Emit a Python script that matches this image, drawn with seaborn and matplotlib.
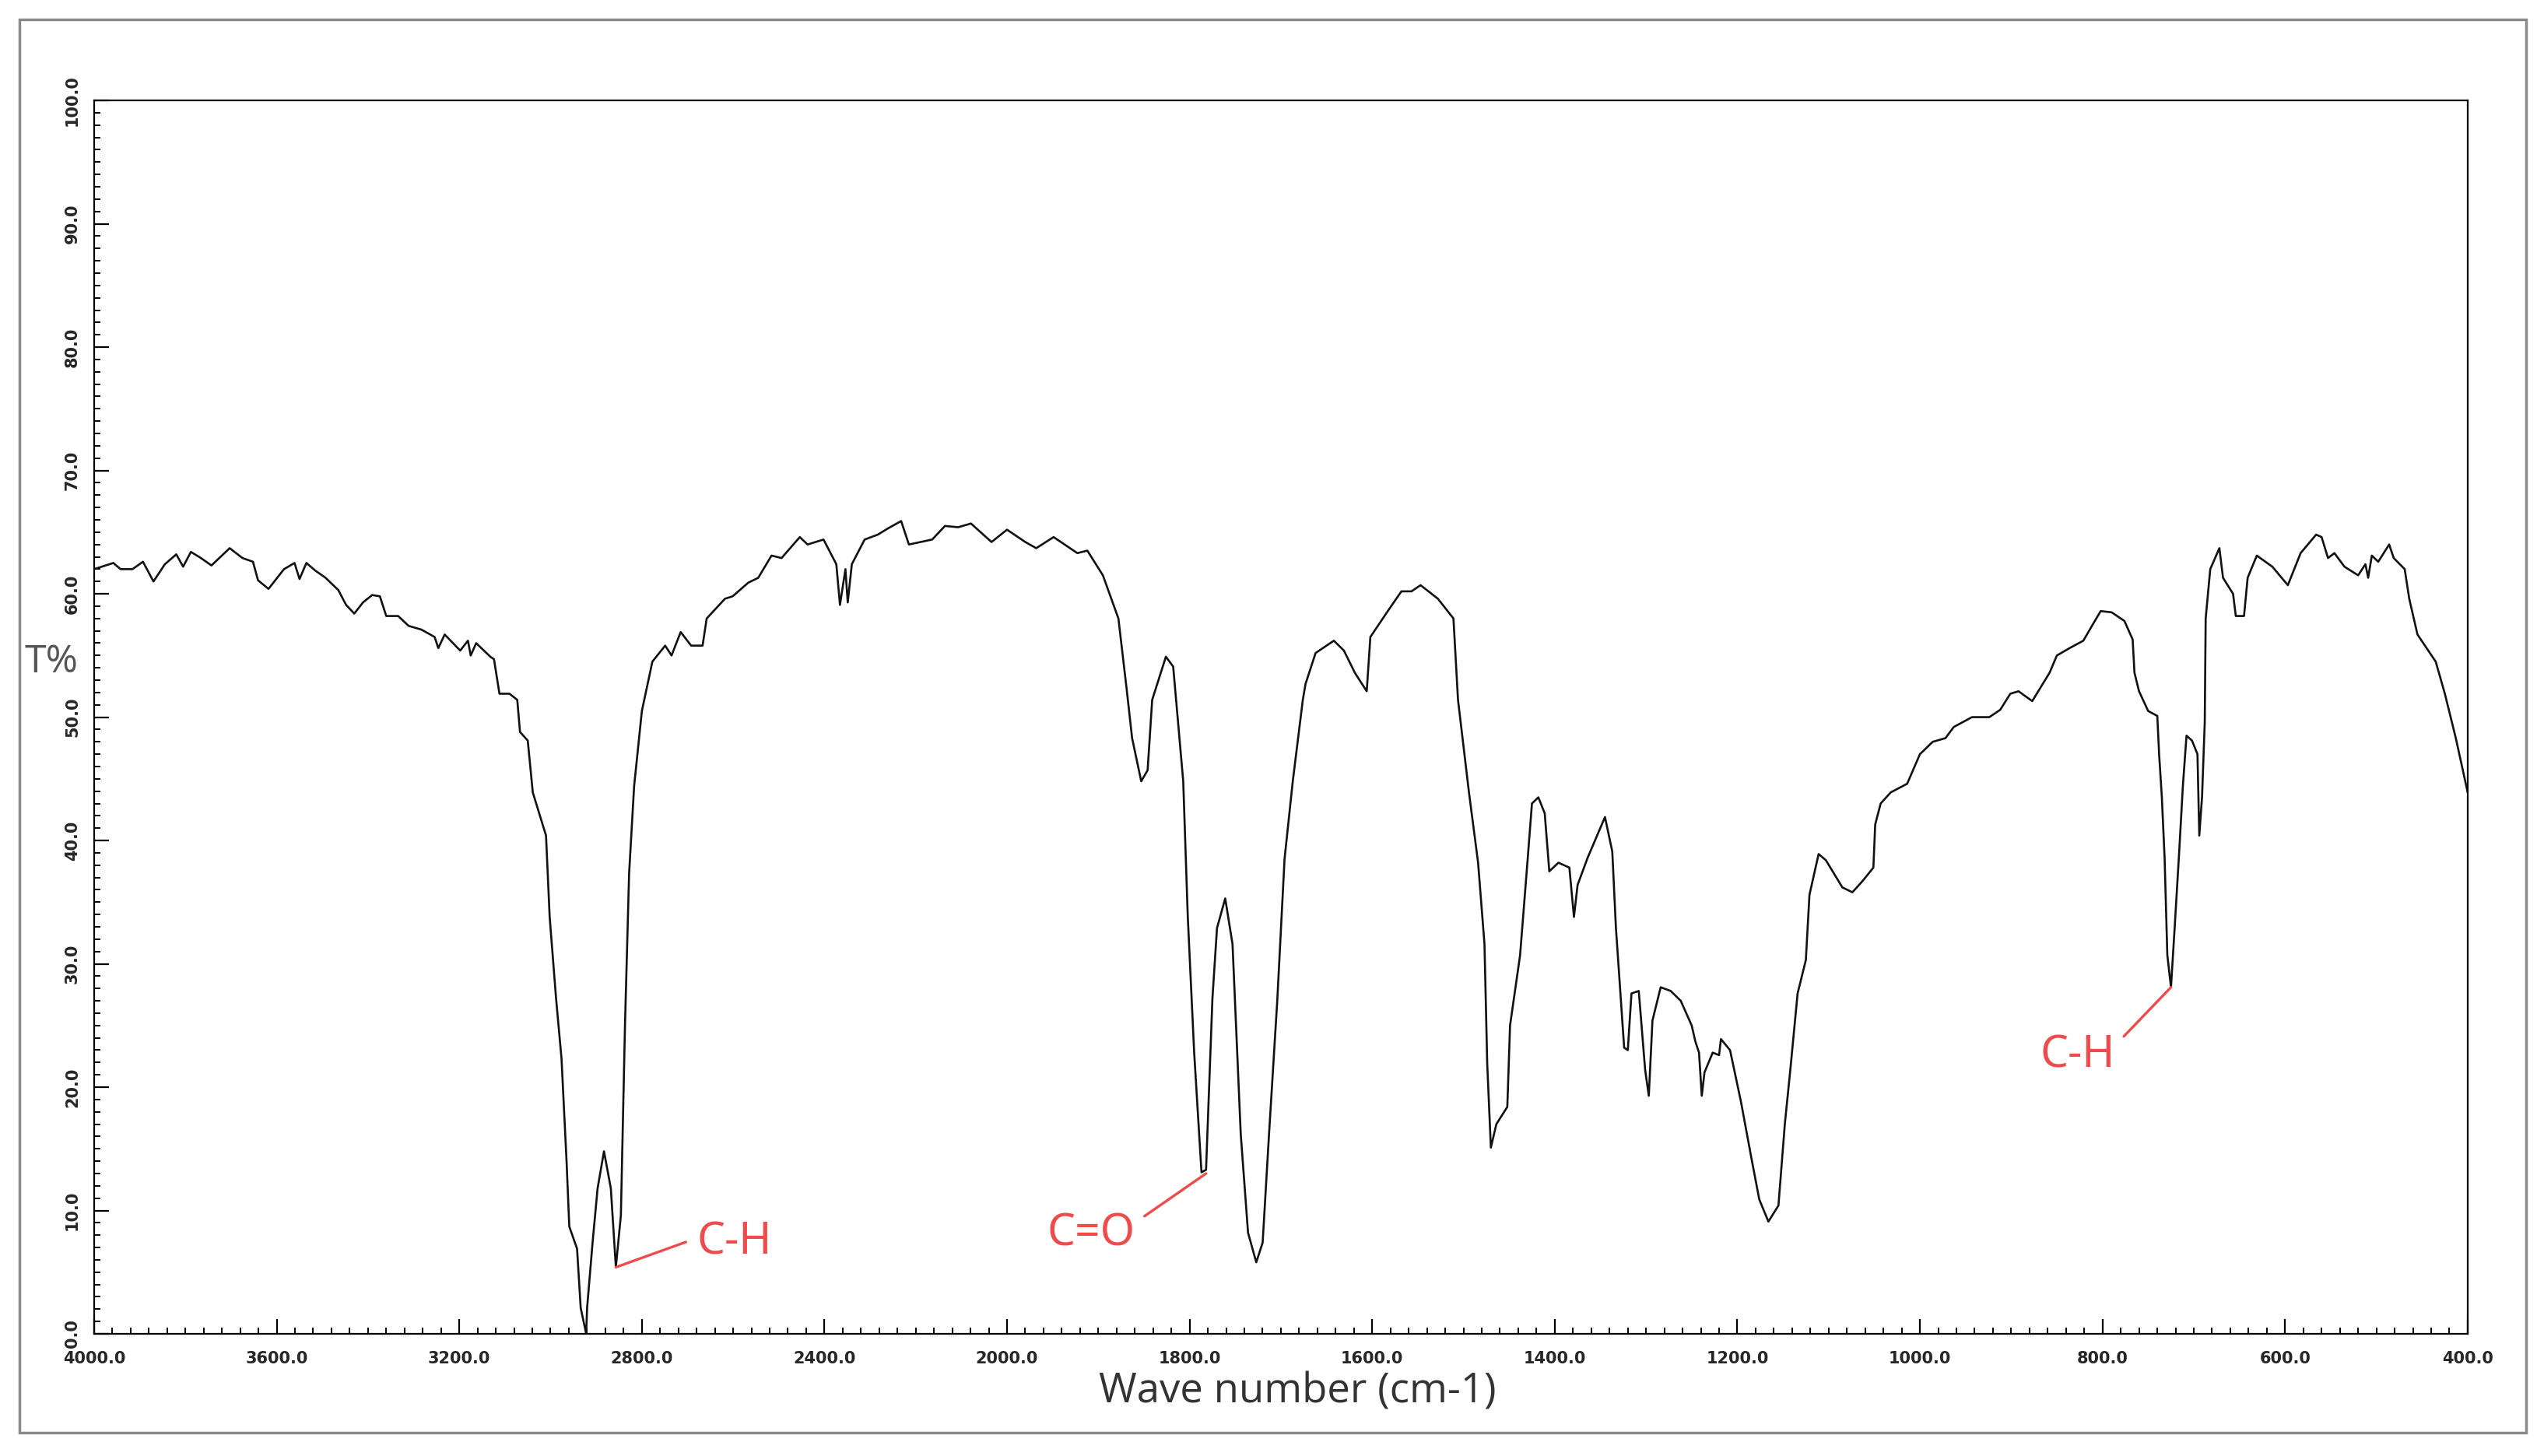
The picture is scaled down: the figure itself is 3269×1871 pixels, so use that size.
import numpy as np
import pandas as pd
import matplotlib
matplotlib.use('Agg')
import matplotlib.pyplot as plt
import matplotlib.ticker as mticker
from matplotlib.patches import Rectangle
import seaborn as sns

# IR spectrum (wave number cm-1, transmittance %)
wavenumber = [4000, 3958, 3942, 3916, 3893, 3870, 3845, 3820, 3805, 3788, 3766, 3743, 3703, 3675,
              3652, 3641, 3618, 3584, 3561, 3550, 3535, 3516, 3493, 3465, 3448, 3430, 3411, 3391,
              3374, 3360, 3334, 3311, 3283, 3254, 3246, 3232, 3198, 3181, 3175, 3163, 3146, 3132,
              3124, 3112, 3090, 3073, 3067, 3050, 3039, 3010, 3002, 2988, 2976, 2965, 2959, 2942,
              2934, 2922, 2920, 2908, 2897, 2883, 2868, 2857, 2846, 2837, 2828, 2817, 2800, 2777,
              2749, 2735, 2715, 2692, 2667, 2658, 2618, 2601, 2567, 2545, 2516, 2494, 2454, 2437,
              2402, 2374, 2366, 2354, 2349, 2340, 2312, 2283, 2261, 2232, 2215, 2164, 2136, 2107,
              2079, 2034, 2000, 1980, 1968, 1949, 1923, 1912, 1895, 1878, 1869, 1863, 1853, 1846,
              1841, 1826, 1818, 1807, 1802, 1795, 1787, 1782, 1775, 1770, 1761, 1753, 1744, 1736,
              1727, 1720, 1713, 1704, 1696, 1687, 1676, 1673, 1662, 1642, 1631, 1619, 1606, 1602,
              1582, 1568, 1557, 1547, 1528, 1511, 1506, 1494, 1484, 1477, 1474, 1470, 1464, 1452,
              1449, 1438, 1430, 1425, 1418, 1411, 1406, 1396, 1384, 1379, 1375, 1364, 1345, 1337,
              1333, 1324, 1320, 1316, 1308, 1301, 1297, 1293, 1284, 1273, 1262, 1250, 1246, 1242,
              1239, 1236, 1227, 1220, 1218, 1208, 1196, 1185, 1176, 1166, 1155, 1148, 1142, 1134,
              1125, 1121, 1111, 1103, 1085, 1074, 1063, 1051, 1049, 1043, 1032, 1014, 1000, 986,
              972, 963, 943, 924, 912, 901, 892, 877, 858, 850, 836, 821, 810, 802,
              790, 776, 767, 765, 760, 750, 740, 738, 735, 732, 729, 725, 721, 716,
              712, 708, 702, 696, 694, 691, 688, 687, 682, 672, 668, 657, 654, 645,
              641, 631, 614, 597, 583, 566, 560, 553, 546, 535, 520, 512, 509, 505,
              498, 486, 481, 469, 464, 455, 435, 425, 413, 400]
transmittance = [62.0, 62.5, 62.0, 62.0, 62.6, 61.0, 62.4, 63.2, 62.2, 63.4, 62.9, 62.3, 63.7, 62.9,
                 62.6, 61.1, 60.4, 62.0, 62.5, 61.2, 62.5, 61.9, 61.3, 60.3, 59.1, 58.4, 59.3, 59.9,
                 59.8, 58.2, 58.2, 57.4, 57.1, 56.5, 55.6, 56.7, 55.4, 56.2, 55.0, 56.0, 55.4, 54.9,
                 54.7, 51.9, 51.9, 51.4, 48.8, 48.1, 43.9, 40.4, 33.8, 27.2, 22.3, 14.0, 8.7, 6.9,
                 2.1, 0.0, 2.1, 7.4, 11.8, 14.8, 11.8, 5.4, 9.6, 25.0, 37.3, 44.4, 50.5, 54.5,
                 55.8, 55.0, 56.9, 55.8, 55.8, 58.0, 59.6, 59.8, 60.9, 61.3, 63.1, 62.9, 64.6, 64.0,
                 64.4, 62.4, 59.1, 62.0, 59.3, 62.4, 64.4, 64.8, 65.3, 65.9, 64.0, 64.4, 65.5, 65.4,
                 65.7, 64.2, 65.2, 64.2, 63.7, 64.6, 63.3, 63.5, 61.5, 58.0, 52.3, 48.3, 44.8, 45.7,
                 51.4, 54.9, 54.1, 44.8, 33.8, 22.8, 13.1, 13.3, 27.2, 32.9, 35.3, 31.6, 16.2, 8.2,
                 5.8, 7.4, 16.2, 27.0, 38.5, 44.8, 51.4, 52.7, 55.2, 56.2, 55.4, 53.6, 52.1, 56.5,
                 58.7, 60.2, 60.2, 60.7, 59.6, 58.0, 51.4, 43.9, 38.2, 31.6, 21.9, 15.1, 17.0, 18.4,
                 25.0, 30.7, 38.2, 43.0, 43.5, 42.2, 37.5, 38.2, 37.8, 33.8, 36.4, 38.6, 41.9, 39.1,
                 32.9, 23.2, 23.0, 27.6, 27.8, 21.4, 19.3, 25.4, 28.1, 27.8, 27.0, 25.0, 23.7, 22.8,
                 19.3, 21.2, 22.8, 22.6, 23.9, 23.0, 18.8, 14.4, 10.9, 9.1, 10.4, 17.0, 21.4, 27.6,
                 30.3, 35.6, 38.9, 38.4, 36.2, 35.8, 36.7, 37.8, 41.3, 43.0, 43.9, 44.6, 47.0, 48.0,
                 48.3, 49.2, 50.0, 50.0, 50.6, 51.9, 52.1, 51.3, 53.6, 55.0, 55.6, 56.2, 57.6, 58.6,
                 58.5, 57.8, 56.3, 53.6, 52.1, 50.5, 50.1, 47.0, 43.5, 38.6, 30.7, 28.1, 32.9, 39.1,
                 44.4, 48.5, 48.1, 47.0, 40.4, 43.5, 49.6, 58.0, 62.0, 63.7, 61.3, 60.0, 58.2, 58.2,
                 61.3, 63.1, 62.2, 60.7, 63.3, 64.8, 64.6, 62.9, 63.3, 62.2, 61.5, 62.4, 61.3, 63.1,
                 62.6, 64.0, 62.9, 62.0, 59.6, 56.7, 54.5, 51.9, 48.3, 43.9]

x_major = [4000, 3600, 3200, 2800, 2400, 2000, 1800, 1600, 1400, 1200, 1000, 800, 600, 400]
y_major = [0, 10, 20, 30, 40, 50, 60, 70, 80, 90, 100]

# peak labels: text, peak (wn, T%), text anchor (wn, T%)
peak_labels = ['C-H', 'C=O', 'C-H']
peak_xy = [(2857, 5.4), (1782, 13.0), (725, 28.1)]
label_xy = [(2680, 7.4), (1860, 8.1), (786, 22.5)]

df = pd.DataFrame({'wn': wavenumber, 'T': transmittance})

sns.set_style('ticks')
plt.rcParams['font.family'] = ['DejaVu Sans']

fig = plt.figure(figsize=(32.69, 18.71), dpi=100)
ax = fig.add_axes([0.037, 0.0839, 0.933, 0.8471])

sns.lineplot(data=df, x='wn', y='T', sort=False, estimator=None, color='#111111', lw=1.9, ax=ax)


# 4000-2000 compressed, 2000-400 expanded (like the instrument plot)
def fwd(w):
    w = np.asarray(w, dtype=float)
    return np.where(w <= 2000, (w - 400) / 200.0, 8 + (w - 2000) / 400.0)


def inv(p):
    p = np.asarray(p, dtype=float)
    return np.where(p <= 8, 400 + 200.0 * p, 2000 + 400.0 * (p - 8))


ax.set_xscale('function', functions=(fwd, inv))
ax.set_xlim(4000, 400)
ax.set_ylim(0, 100)

minor_x = list(range(4000, 2000, -40)) + list(range(2000, 399, -20))
ax.xaxis.set_major_locator(mticker.FixedLocator(x_major))
ax.xaxis.set_minor_locator(mticker.FixedLocator(minor_x))
ax.xaxis.set_major_formatter(mticker.FuncFormatter(lambda v, p: '%.1f' % v))
ax.yaxis.set_major_locator(mticker.FixedLocator(y_major))
ax.yaxis.set_minor_locator(mticker.MultipleLocator(1))
ax.yaxis.set_major_formatter(mticker.FuncFormatter(lambda v, p: '%.1f' % v))

ax.tick_params(which='major', direction='in', length=14, width=1.6, color='black',
               labelsize=15)
ax.tick_params(axis='x', which='major', pad=16)
ax.tick_params(axis='y', which='major', pad=13, labelrotation=90)
ax.tick_params(which='minor', direction='in', length=6, width=1.4, color='black')
for lab in ax.get_yticklabels():
    lab.set_va('center')
for lab in ax.get_xticklabels() + ax.get_yticklabels():
    lab.set_fontweight('bold')

for s in ax.spines.values():
    s.set_visible(True)
    s.set_linewidth(1.6)
    s.set_color('black')

ax.set_xlabel('')
ax.set_ylabel('')
fig.text(0.510, 0.0438, 'Wave number (cm-1)', ha='center', va='center', fontsize=38,
         color='#333333', family=['Open Sans', 'DejaVu Sans'])
fig.text(0.0095, 0.545, 'T%', ha='left', va='center', fontsize=36,
         color='#555555', family=['Open Sans', 'DejaVu Sans'])

red = '#f04a4a'
for txt, pk, lx in zip(peak_labels, peak_xy, label_xy):
    left = lx[0] < pk[0]
    ax.annotate(txt, xy=pk, xytext=lx, ha='left' if left else 'right', va='center',
                fontsize=41, color=red, family=['Noto Sans', 'DejaVu Sans'],
                arrowprops=dict(arrowstyle='-', color=red, lw=2.4, shrinkA=8, shrinkB=0,
                                relpos=(0, 0.6) if left else (1, 0.75)))

fig.patches.append(Rectangle((25 / 3269, 1 - 1841 / 1871), 3221 / 3269, 1816 / 1871,
                             transform=fig.transFigure, fill=False, edgecolor='#8a8a8a', lw=2.5))

fig.savefig('out.png', dpi=100, facecolor='white')
